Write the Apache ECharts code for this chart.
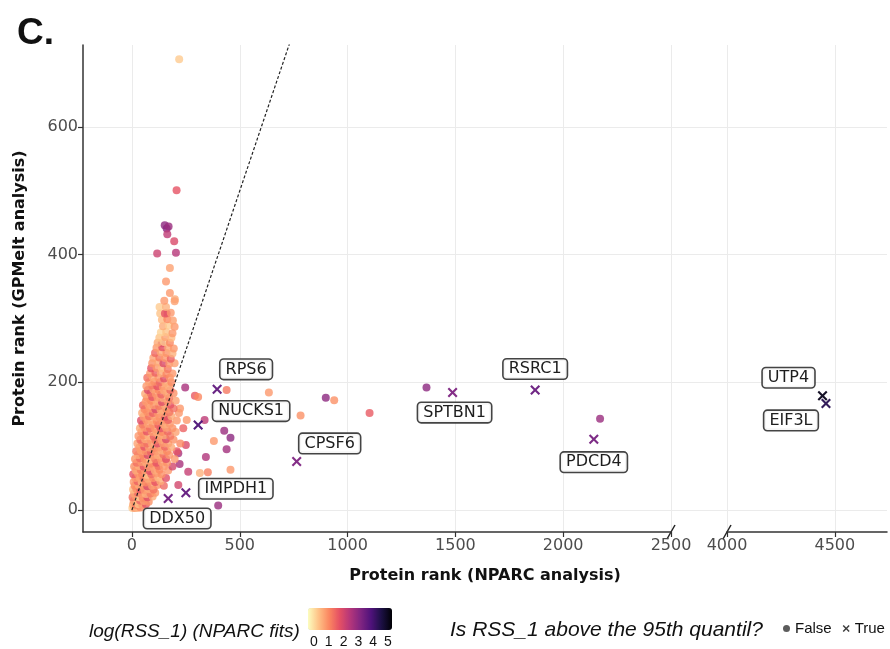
<!DOCTYPE html>
<html><head><meta charset="utf-8">
<script src="https://cdn.jsdelivr.net/npm/echarts@6/dist/echarts.min.js"></script>
<style>html,body{margin:0;padding:0;background:#fff}#c{width:890px;height:649px}</style>
</head><body><div id="c"></div>
<script>
// ---------- data ----------
const xTicksLeft = [0, 500, 1000, 1500, 2000, 2500];
const xTicksRight = [4000, 4500];
const yTicks = [0, 200, 400, 600];
const colorTicks = [0, 1, 2, 3, 4, 5];

// labelled proteins whose RSS_1 is above the 95th quantile (left panel)
const trueGenes = ['RPS6', 'NUCKS1', 'CPSF6', 'IMPDH1', 'DDX50', 'SPTBN1', 'RSRC1', 'PDCD4'];
const trueX = [395, 307, 764, 250, 168, 1487, 1870, 2142];
const trueY = [189, 133, 76, 27, 18, 184, 188, 111];
const trueRSS = [3.6, 3.9, 3.2, 3.6, 3.4, 3.2, 3.5, 3.3];

// labelled proteins in the right (broken-axis) panel
const farGenes = ['UTP4', 'EIF3L'];
const farX = [4443, 4459];
const farY = [179, 167];
const farRSS = [5.0, 4.4];

// other proteins: [NPARC rank, GPMelt rank, log(RSS_1)]
const outlierPoints = [
  [219,706,0.2],[207,501,1.7],[161,441,3.1],[152,446,3.0],[170,444,2.8],[164,432,2.3],
  [196,421,1.9],[117,402,2.1],[204,403,2.4],
  [1366,192,3.0],[899,176,3.0],[938,172,0.9],[782,148,0.9],[1102,152,1.6],[2171,143,2.8],
  [439,188,1.2],[635,184,0.8],[247,192,2.6],[337,141,2.3],[428,124,2.8],[457,113,3.0],
  [380,108,0.8],[439,95,2.7],[343,83,2.5],[457,63,0.8],[352,59,1.1],[315,58,0.5],
  [400,7,2.8],[292,179,1.6],[307,177,1.0],[223,159,0.8],[221,72,2.6],[261,60,2.2],
  [215,39,2.0],[254,141,0.8],[250,102,1.9],[215,89,2.6],[161,141,2.6],[138,261,2.1],
  [161,308,2.0],[176,379,0.7],[158,358,0.8],[176,340,0.8],[199,330,0.6]
];
const clusterPoints = [
  [2,3,0.2],[12,3,0.8],[25,3,0.5],[40,4,1.0],
  [5,8,0.6],[18,8,1.2],[30,9,0.3],[48,8,0.8],[65,9,1.7],
  [8,14,0.8],[22,14,0.4],[38,15,1.5],[55,14,0.7],[78,13,0.9],
  [3,20,1.3],[18,21,0.8],[34,20,0.2],[50,19,1.0],[72,20,1.8],[96,21,0.6],
  [10,26,0.7],[27,27,1.4],[46,26,0.8],[64,25,0.5],[86,26,1.2],[108,27,0.8],
  [5,32,0.4],[21,33,0.9],[39,32,1.7],[58,31,0.8],[79,33,0.6],[100,32,1.3],
  [13,38,1.0],[31,39,0.6],[50,38,0.8],[71,37,1.9],[93,38,0.7],[118,39,0.9],[148,38,1.4],
  [8,44,0.8],[26,45,1.5],[45,44,0.5],[64,43,1.0],[84,45,0.8],[108,44,1.7],[132,45,0.6],
  [16,50,0.8],[35,51,0.7],[54,50,1.3],[74,49,0.6],[98,50,0.9],[122,51,0.4],[158,50,1.8],
  [6,56,1.7],[28,57,0.8],[47,56,1.0],[69,55,0.3],[90,56,1.4],[113,57,0.8],[138,56,0.9],
  [18,62,0.6],[40,63,1.2],[61,62,0.8],[83,61,1.8],[106,62,0.6],[128,63,1.0],[168,62,0.8],
  [10,68,0.9],[32,69,0.5],[54,68,1.7],[76,67,0.8],[99,68,0.7],[123,69,1.3],[148,68,0.8],[188,68,2.0],
  [22,74,1.3],[44,75,0.8],[66,74,0.6],[89,73,1.0],[113,74,1.7],[138,75,0.7],[163,74,0.9],
  [14,80,0.8],[37,81,1.4],[59,80,0.9],[83,79,0.4],[108,80,1.2],[133,81,0.8],[158,80,1.8],[198,80,0.8],
  [27,86,0.6],[49,87,1.0],[73,86,1.9],[96,85,0.8],[120,86,0.6],[146,87,1.3],[173,86,0.8],
  [20,92,1.2],[41,93,0.7],[64,92,0.9],[88,91,1.5],[113,92,0.8],[138,93,0.5],[163,92,1.0],[208,92,1.7],
  [34,98,0.8],[57,99,1.7],[79,98,0.7],[103,97,1.0],[128,98,0.8],[153,99,1.4],[183,98,0.6],
  [25,104,0.7],[47,105,0.9],[71,104,1.3],[94,103,0.6],[118,104,1.8],[143,105,0.8],[168,104,0.7],[224,104,1.0],
  [39,110,1.4],[61,111,0.6],[87,110,0.8],[110,109,1.2],[136,110,0.7],[158,111,1.9],[193,110,0.9],
  [30,116,0.8],[54,117,1.0],[77,116,0.5],[101,115,1.5],[126,116,0.8],[148,117,0.6],[178,116,1.2],
  [44,122,0.9],[69,123,1.7],[93,122,0.8],[116,121,0.6],[140,122,1.0],[166,123,1.4],[203,122,0.7],
  [37,128,0.6],[59,129,0.8],[84,128,1.3],[108,127,0.8],[133,128,1.7],[158,129,0.7],[188,128,0.9],[238,128,1.5],
  [49,134,1.2],[74,135,0.7],[98,134,0.9],[123,133,1.5],[148,134,0.6],[176,135,0.8],
  [42,140,1.8],[67,141,0.8],[91,140,0.6],[116,139,1.0],[143,140,0.8],[168,141,1.4],[208,140,0.8],
  [54,146,0.8],[79,147,1.3],[104,146,0.7],[128,145,0.9],[153,146,1.7],[183,147,0.6],
  [47,152,0.6],[71,153,0.9],[97,152,1.5],[121,151,0.8],[146,152,0.7],[173,153,1.2],[218,152,0.8],
  [59,158,1.0],[84,159,0.8],[109,158,1.9],[133,157,0.6],[160,158,0.9],[193,159,1.3],
  [51,164,1.4],[77,165,0.7],[101,164,0.8],[126,163,1.2],[153,164,0.6],[178,165,1.7],
  [64,170,0.8],[89,171,1.0],[114,170,0.6],[139,169,1.8],[166,170,0.8],[203,171,0.7],
  [69,176,0.9],[94,177,1.7],[119,176,0.8],[146,175,0.6],[173,176,1.2],
  [61,182,0.6],[87,183,1.3],[111,182,0.8],[136,181,1.5],[163,182,0.7],[193,183,0.9],
  [74,188,1.9],[99,189,0.7],[124,188,1.0],[149,187,0.6],[178,188,1.4],
  [67,194,0.8],[94,195,1.2],[118,194,1.7],[143,193,0.8],[171,194,0.5],
  [79,200,0.7],[104,201,0.9],[129,200,1.4],[156,199,0.6],[183,200,1.0],
  [71,207,1.3],[97,208,0.6],[123,207,0.8],[149,206,1.8],[176,207,0.8],
  [84,214,0.8],[109,215,1.5],[134,214,0.6],[160,213,1.0],[188,214,0.8],
  [89,222,1.7],[114,223,0.8],[139,222,0.4],[166,221,1.2],
  [94,230,0.9],[121,231,0.6],[146,230,1.9],[173,229,0.8],[198,230,0.7],
  [99,238,0.7],[127,239,1.2],[153,238,0.8],[180,237,1.5],
  [107,246,1.4],[134,247,0.6],[160,246,0.9],[188,245,0.5],
  [114,254,0.8],[141,255,1.7],[168,254,0.6],[194,253,0.8],
  [119,262,0.6],[149,263,0.2],[176,262,1.0],
  [127,270,0.3],[154,271,0.7],[183,270,0.4],
  [134,278,0.1],[159,279,0.3],[188,277,0.8],
  [144,288,0.6],[171,289,0.2],[198,287,0.8],
  [139,298,0.4],[164,299,1.0],[190,297,0.7],
  [131,308,0.3],[153,308,1.7],[180,309,0.8],
  [128,318,0.2],[158,318,0.5],
  [150,328,0.8],[198,327,0.7]
];
const diagonal = [[0, 0], [800, 800]];

// ---------- layout / style ----------
const labelOffsets = {
  RPS6: [29, -20], NUCKS1: [53, -14], CPSF6: [33, -18], IMPDH1: [50, -4], DDX50: [9, 20],
  SPTBN1: [2, 20], RSRC1: [0, -21], PDCD4: [0, 23], UTP4: [-34, -18], EIF3L: [-35, 17]
};
const magmaRev = ['#FCFDBF','#FEC287','#FB8761','#E55064','#B5367A','#812581','#4F127B','#1C1044','#000004'];
const crossPath = 'path://M0,1.5L1.5,0L5,3.5L8.5,0L10,1.5L6.5,5L10,8.5L8.5,10L5,6.5L1.5,10L0,8.5L3.5,5Z';
const tickFont = { fontFamily: 'DejaVu Sans', fontSize: 16, color: '#4D4D4D', formatter: v => String(v) };
const gridColor = '#EBEBEB';
const Y_MIN = -34.5, Y_MAX = 728.5;
const VM_MIN = -0.4, VM_MAX = 5.27, VM_LEFT = 308, VM_LEN = 84;

function labelled(names, xs, ys, cs) {
  return names.map((n, i) => ({
    name: n, value: [xs[i], ys[i], cs[i]],
    label: { offset: labelOffsets[n] }
  }));
}
const boxLabel = {
  show: true, position: 'inside', formatter: p => p.name,
  fontFamily: 'DejaVu Sans', fontSize: 16, color: '#111',
  backgroundColor: '#fff', borderColor: '#3a3a3a', borderWidth: 1.6, borderRadius: 3,
  padding: [2, 5, 1, 5]
};

const chart = echarts.init(document.getElementById('c'), null, { renderer: 'canvas' });
const yBase = {
  type: 'value', min: Y_MIN, max: Y_MAX,
  splitLine: { show: true, lineStyle: { color: gridColor, width: 1 } },
  axisLine: { show: false }
};
const option = {
  backgroundColor: '#fff',
  animation: false,
  title: [
    { text: 'C.', left: 12, top: 10, textStyle: { fontFamily: 'Liberation Sans', fontWeight: 'bold', fontSize: 37, color: '#111' } },
    { text: 'log(RSS_1) (NPARC fits)', left: 84, top: 617, textStyle: { fontFamily: 'Liberation Sans', fontStyle: 'italic', fontWeight: 'normal', fontSize: 19, color: '#111' } },
    { text: 'Is RSS_1 above the 95th quantil?', left: 445, top: 615, textStyle: { fontFamily: 'Liberation Sans', fontStyle: 'italic', fontWeight: 'normal', fontSize: 21, color: '#111' } }
  ],
  grid: [
    { left: 83, top: 45, width: 588, height: 487 },
    { left: 671, top: 45, width: 56, height: 487 },
    { left: 727, top: 45, width: 160, height: 487 }
  ],
  xAxis: [
    { gridIndex: 0, type: 'value', min: -227, max: 2500,
      axisLine: { onZero: false, lineStyle: { color: '#333', width: 1.5 } },
      axisTick: { customValues: xTicksLeft, length: 5, lineStyle: { color: '#333', width: 1.2 } },
      axisLabel: { customValues: xTicksLeft, margin: 6, ...tickFont },
      splitLine: { show: true, lineStyle: { color: gridColor, width: 1 } } },
    { gridIndex: 1, type: 'value', min: 0, max: 1, show: false },
    { gridIndex: 2, type: 'value', min: 4000, max: 4742,
      axisLine: { onZero: false, lineStyle: { color: '#333', width: 1.5 } },
      axisTick: { customValues: xTicksRight, length: 5, lineStyle: { color: '#333', width: 1.2 } },
      axisLabel: { customValues: xTicksRight, margin: 6, ...tickFont },
      splitLine: { show: true, lineStyle: { color: gridColor, width: 1 } } }
  ],
  yAxis: [
    { gridIndex: 0, type: 'value', min: Y_MIN, max: Y_MAX,
      name: 'Protein rank (GPMelt analysis)', nameLocation: 'middle', nameGap: 55, nameRotate: 90,
      nameTextStyle: { fontFamily: 'DejaVu Sans', fontWeight: 'bold', fontSize: 16, color: '#111' },
      axisLine: { show: true, onZero: false, lineStyle: { color: '#333', width: 1.5 } },
      axisTick: { show: true, customValues: yTicks, length: 5, lineStyle: { color: '#333', width: 1.2 } },
      axisLabel: { customValues: yTicks, margin: 5, ...tickFont },
      splitLine: { show: true, lineStyle: { color: gridColor, width: 1 } } },
    { gridIndex: 1, ...yBase, axisLabel: { show: false, customValues: yTicks }, axisTick: { show: false, customValues: yTicks } },
    { gridIndex: 2, ...yBase, axisLabel: { show: false, customValues: yTicks }, axisTick: { show: false, customValues: yTicks } }
  ],
  visualMap: {
    type: 'continuous', min: VM_MIN, max: VM_MAX, dimension: 2, seriesIndex: [0, 1, 2],
    orient: 'horizontal', left: VM_LEFT - 15, top: 593, itemWidth: 22, itemHeight: VM_LEN,
    calculable: false, text: null, showLabel: false, hoverLink: false,
    inRange: { color: magmaRev }
  },
  legend: {
    left: 783, top: 621, padding: 0, itemWidth: 7, itemHeight: 7, itemGap: 11, width: 120,
    textStyle: { fontFamily: 'Liberation Sans', fontSize: 15, color: '#111' },
    data: [
      { name: 'False', icon: 'circle', itemStyle: { color: '#333' } },
      { name: 'True', icon: crossPath, itemStyle: { color: '#333' } }
    ]
  },
  series: [
    { name: 'False', type: 'scatter', xAxisIndex: 0, yAxisIndex: 0, symbol: 'circle', symbolSize: 8,
      itemStyle: { color: '#333', opacity: 0.8 }, z: 2,
      data: outlierPoints.concat(clusterPoints) },
    { name: 'True', type: 'scatter', xAxisIndex: 0, yAxisIndex: 0, symbol: crossPath, symbolSize: 10,
      itemStyle: { color: '#333', opacity: 0.95 }, z: 4, label: boxLabel,
      data: labelled(trueGenes, trueX, trueY, trueRSS) },
    { name: 'True', type: 'scatter', xAxisIndex: 2, yAxisIndex: 2, symbol: crossPath, symbolSize: 10,
      itemStyle: { color: '#333', opacity: 0.95 }, z: 4, label: boxLabel,
      data: labelled(farGenes, farX, farY, farRSS) },
    { name: 'identity', type: 'line', xAxisIndex: 0, yAxisIndex: 0, data: diagonal, symbol: 'none',
      lineStyle: { color: '#222', width: 1.2, type: [3, 2] }, z: 3, silent: true, clip: true }
  ]
};
chart.setOption(option);

// decorations: axis-break marks, x axis title, colourbar tick labels
const p1 = chart.convertToPixel({ xAxisIndex: 0, yAxisIndex: 0 }, [2500, Y_MIN]);
const p2 = chart.convertToPixel({ xAxisIndex: 2, yAxisIndex: 2 }, [4000, Y_MIN]);
const breakMark = p => ({ type: 'line', shape: { x1: p[0] - 4, y1: p[1] + 7, x2: p[0] + 4, y2: p[1] - 7 },
  style: { stroke: '#222', lineWidth: 1.5 } });
const cbLabels = colorTicks.map(v => ({
  type: 'text', x: VM_LEFT + (v - VM_MIN) / (VM_MAX - VM_MIN) * VM_LEN, y: 642,
  style: { text: String(v), fill: '#111', font: '14px "Liberation Sans"', textAlign: 'center', textVerticalAlign: 'middle' }
}));
const pL = chart.convertToPixel({ xAxisIndex: 0, yAxisIndex: 0 }, [-227, Y_MIN]);
const pR = chart.convertToPixel({ xAxisIndex: 2, yAxisIndex: 2 }, [4742, Y_MIN]);
chart.setOption({
  graphic: [
    breakMark(p1), breakMark(p2),
    { type: 'text', x: (pL[0] + pR[0]) / 2, y: 576,
      style: { text: 'Protein rank (NPARC analysis)', fill: '#111', font: 'bold 16px "DejaVu Sans"', textAlign: 'center', textVerticalAlign: 'middle' } }
  ].concat(cbLabels)
});
</script></body></html>
